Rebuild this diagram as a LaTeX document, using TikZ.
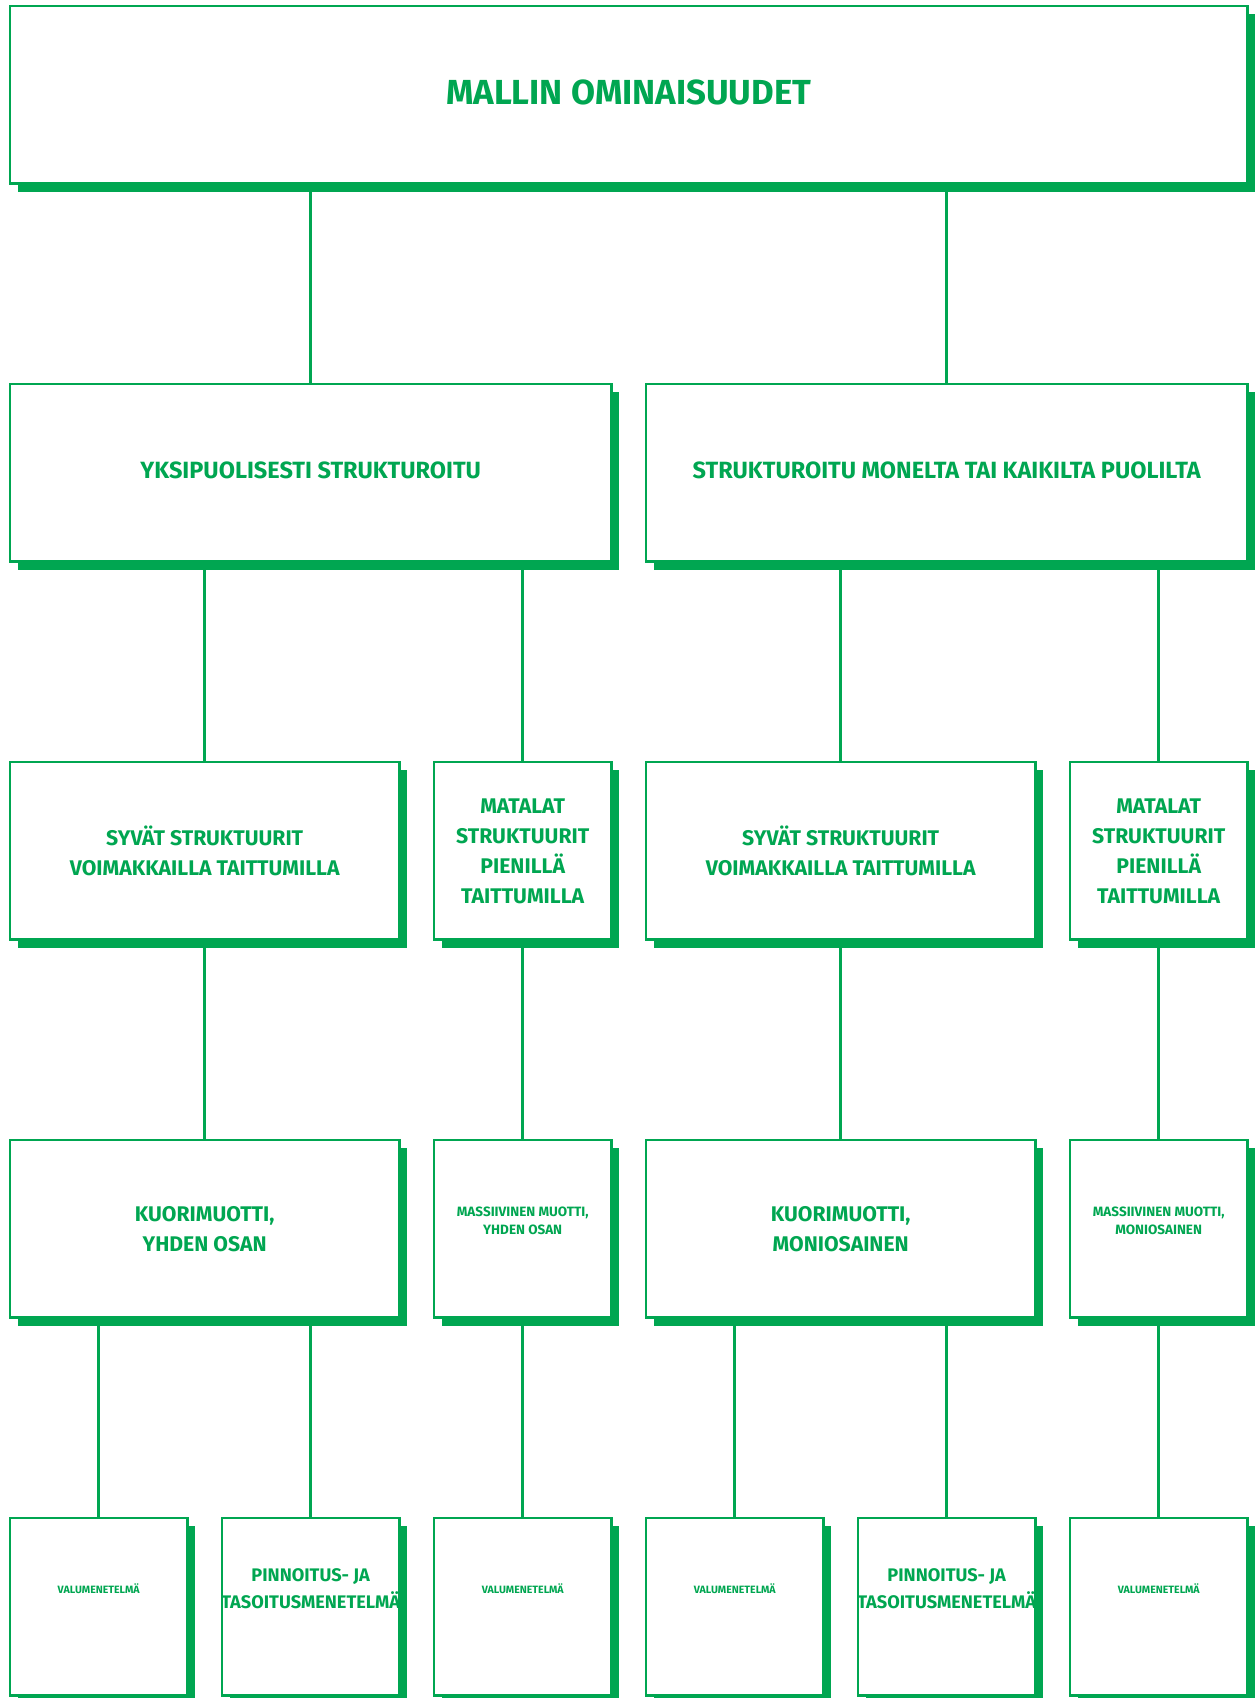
\documentclass[tikz,border=0pt]{standalone}
\usepackage{fontspec}
\setmainfont{Fira Sans}
\usetikzlibrary{positioning,shadows}
\definecolor{vihrea}{RGB}{0,166,81}

\begin{document}
\begin{tikzpicture}[x=1pt, y=1pt, node distance=198pt and 32pt,
        laatikko/.style={rectangle, draw=vihrea, line width=2.5pt, fill=white, text=vihrea, align=center, inner sep=0pt, minimum height=177.5pt,
            general shadow={fill=vihrea, shadow xshift=8pt, shadow yshift=-8pt}, font=\fontsize{21.2}{30}\selectfont\bfseries},
        yksi/.style={laatikko, minimum width=177.5pt},
        kaksi/.style={laatikko, minimum width=389.5pt},
        kolme/.style={laatikko, minimum width=601.5pt, font=\fontsize{23.5}{30}\selectfont\bfseries, text depth=6pt},
        pieni/.style={font=\fontsize{13.5}{18.4}\selectfont\bfseries, text depth=16pt},
        alateksti/.style={text=vihrea, align=center, yshift=18pt},
        yhteys/.style={draw=vihrea, line width=2.5pt}]

    \useasboundingbox (0,0) rectangle (1255,1698);

    \node[laatikko, minimum width=1237.5pt, font=\fontsize{34.8}{40}\selectfont\bfseries, text depth=6pt, anchor=north west] (malli) at (8.7,1693) {MALLIN OMINAISUUDET};

    \node[kolme, below=of malli.south west, anchor=north west] (yksipuol) {YKSIPUOLISESTI STRUKTUROITU};
    \node[kolme, right=of yksipuol] (monelta) {STRUKTUROITU MONELTA TAI KAIKILTA PUOLILTA};

    \node[kaksi, below=of yksipuol.south west, anchor=north west] (syvat1) {SYVÄT STRUKTUURIT\\VOIMAKKAILLA TAITTUMILLA};
    \node[yksi, right=of syvat1] (matalat1) {MATALAT\\STRUKTUURIT\\PIENILLÄ\\TAITTUMILLA};
    \node[kaksi, right=of matalat1] (syvat2) {SYVÄT STRUKTUURIT\\VOIMAKKAILLA TAITTUMILLA};
    \node[yksi, right=of syvat2] (matalat2) {MATALAT\\STRUKTUURIT\\PIENILLÄ\\TAITTUMILLA};

    \node[kaksi, below=of syvat1.south west, anchor=north west] (kuori1) {KUORIMUOTTI,\\YHDEN OSAN};
    \node[yksi, pieni, right=of kuori1] (massa1) {MASSIIVINEN MUOTTI,\\YHDEN OSAN};
    \node[kaksi, right=of massa1] (kuori2) {KUORIMUOTTI,\\MONIOSAINEN};
    \node[yksi, pieni, right=of kuori2] (massa2) {MASSIIVINEN MUOTTI,\\MONIOSAINEN};

    % menetelmat, teksti ylempana laatikossa
    \node[yksi, below=of kuori1.south west, anchor=north west,
        label={[alateksti, font=\fontsize{10.6}{13}\selectfont\bfseries, name=valu1t]center:VALUMENETELMÄ}] (valu1) {};
    \node[yksi, right=of valu1,
        label={[alateksti, font=\fontsize{18.2}{27}\selectfont\bfseries, name=pinn1t]center:PINNOITUS- JA\\TASOITUSMENETELMÄ}] (pinn1) {};
    \node[yksi, right=of pinn1,
        label={[alateksti, font=\fontsize{10.6}{13}\selectfont\bfseries, name=valu2t]center:VALUMENETELMÄ}] (valu2) {};
    \node[yksi, right=of valu2,
        label={[alateksti, font=\fontsize{10.6}{13}\selectfont\bfseries, name=valu3t]center:VALUMENETELMÄ}] (valu3) {};
    \node[yksi, right=of valu3,
        label={[alateksti, font=\fontsize{18.2}{27}\selectfont\bfseries, name=pinn2t]center:PINNOITUS- JA\\TASOITUSMENETELMÄ}] (pinn2) {};
    \node[yksi, right=of pinn2,
        label={[alateksti, font=\fontsize{10.6}{13}\selectfont\bfseries, name=valu4t]center:VALUMENETELMÄ}] (valu4) {};

    \draw[yhteys] (malli.south -| yksipuol.north) -- (yksipuol.north);
    \draw[yhteys] (malli.south -| monelta.north) -- (monelta.north);

    \draw[yhteys] (yksipuol.south -| syvat1.north) -- (syvat1.north);
    \draw[yhteys] (yksipuol.south -| matalat1.north) -- (matalat1.north);
    \draw[yhteys] (monelta.south -| syvat2.north) -- (syvat2.north);
    \draw[yhteys] (monelta.south -| matalat2.north) -- (matalat2.north);

    \draw[yhteys] (syvat1) -- (kuori1);
    \draw[yhteys] (matalat1) -- (massa1);
    \draw[yhteys] (syvat2) -- (kuori2);
    \draw[yhteys] (matalat2) -- (massa2);

    \draw[yhteys] (kuori1.south -| valu1.north) -- (valu1.north);
    \draw[yhteys] (kuori1.south -| pinn1.north) -- (pinn1.north);
    \draw[yhteys] (massa1) -- (valu2);
    \draw[yhteys] (kuori2.south -| valu3.north) -- (valu3.north);
    \draw[yhteys] (kuori2.south -| pinn2.north) -- (pinn2.north);
    \draw[yhteys] (massa2) -- (valu4);

\end{tikzpicture}
\end{document}
